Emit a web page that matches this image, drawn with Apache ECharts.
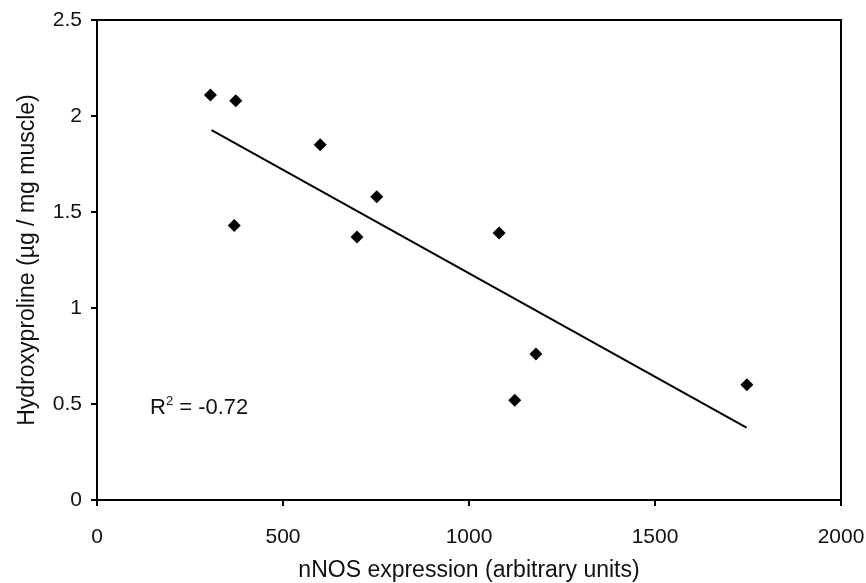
<!DOCTYPE html>
<html>
<head>
<meta charset="utf-8">
<script src="https://cdn.jsdelivr.net/npm/echarts@6/dist/echarts.min.js"></script>
<style>html,body{margin:0;padding:0;background:#fff}#c{width:866px;height:583px}</style>
</head>
<body>
<div id="c"></div>
<script>
var nnos = [305, 373, 369, 600, 752, 699, 1081, 1180, 1123, 1747];
var hyp = [2.11, 2.08, 1.43, 1.85, 1.58, 1.37, 1.39, 0.76, 0.52, 0.60];
var trendX = [308, 1746];
var trendY = [1.927, 0.377];
var xTicks = [0, 500, 1000, 1500, 2000];
var yTicks = [0, 0.5, 1, 1.5, 2, 2.5];

var chart = echarts.init(document.getElementById('c'), null, {renderer: 'canvas'});
var font = 'Liberation Sans, Arial, sans-serif';
chart.setOption({
  backgroundColor: '#fff',
  animation: false,
  grid: {left: 97, right: 25, top: 20, bottom: 83, show: true, borderColor: '#000', borderWidth: 2,
         containLabel: false, outerBoundsMode: 'none'},
  xAxis: {
    type: 'value', min: 0, max: 2000, interval: 500,
    name: 'nNOS expression (arbitrary units)', nameLocation: 'middle', nameGap: 59,
    nameTextStyle: {fontFamily: font, fontSize: 23, color: '#111'},
    axisLine: {show: true, lineStyle: {color: '#000', width: 2}},
    axisTick: {show: true, length: 6, lineStyle: {color: '#000', width: 2}},
    axisLabel: {fontFamily: font, fontSize: 21, color: '#111', margin: 27,
      formatter: function(v){ return xTicks.indexOf(v) >= 0 ? String(v) : ''; }},
    splitLine: {show: false}
  },
  yAxis: {
    type: 'value', min: 0, max: 2.5, interval: 0.5,
    name: 'Hydroxyproline (µg / mg muscle)', nameLocation: 'middle', nameGap: 58,
    nameTextStyle: {fontFamily: font, fontSize: 23, color: '#111'},
    axisLine: {show: true, lineStyle: {color: '#000', width: 2}},
    axisTick: {show: true, length: 6, lineStyle: {color: '#000', width: 2}},
    axisLabel: {fontFamily: font, fontSize: 21, color: '#111', margin: 15,
      formatter: function(v){ return yTicks.indexOf(v) >= 0 ? String(v) : ''; }},
    splitLine: {show: false}
  },
  series: [
    {
      type: 'line', data: trendX.map(function(x, i){ return [x, trendY[i]]; }),
      showSymbol: false, lineStyle: {color: '#000', width: 2}, silent: true, z: 2
    },
    {
      type: 'scatter', data: nnos.map(function(x, i){ return [x, hyp[i]]; }),
      symbol: 'diamond', symbolSize: 13, itemStyle: {color: '#000', opacity: 1}, z: 3
    }
  ],
  graphic: [{
    type: 'text', left: 150, top: 395,
    style: {
      text: '{r|R}{s|2}{r| = -0.72}',
      rich: {
        r: {fontFamily: font, fontSize: 22, fill: '#111', verticalAlign: 'bottom', lineHeight: 24},
        s: {fontFamily: font, fontSize: 13, fill: '#111', verticalAlign: 'top', padding: [0,0,10,0], lineHeight: 24}
      }
    }
  }]
});
</script>
</body>
</html>
